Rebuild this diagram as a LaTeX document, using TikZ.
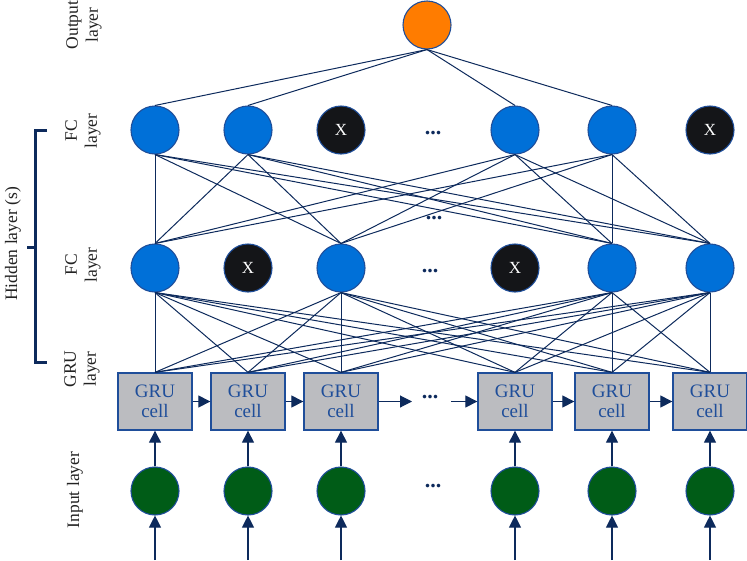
\documentclass[tikz,border=0pt]{standalone}
\usepackage{fontspec}
\setmainfont{Liberation Serif}
\usetikzlibrary{arrows.meta}
\definecolor{navy}{HTML}{0D2A5C}
\definecolor{nblue}{HTML}{0070D8}
\definecolor{nborder}{HTML}{1F4E9A}
\definecolor{nblack}{HTML}{141518}
\definecolor{ngreen}{HTML}{005C17}
\definecolor{norange}{HTML}{FF7C00}
\definecolor{ngray}{HTML}{BBBCC0}
\definecolor{labtext}{HTML}{222222}
\tikzset{
  neuron/.style={circle, minimum size=48pt, inner sep=0pt, draw=nborder, line width=1.1pt},
  bluen/.style={neuron, fill=nblue},
  dropn/.style={neuron, fill=nblack, text=white, font=\fontsize{17}{17}\selectfont},
  greenn/.style={neuron, fill=ngreen},
  outn/.style={neuron, fill=norange},
  grubox/.style={rectangle, draw=nborder, fill=ngray, line width=1.3pt, minimum width=74pt, minimum height=57pt, inner sep=0pt, align=center, text=nborder, font=\fontsize{19}{20}\selectfont},
  conn/.style={draw=navy, line width=1pt},
  arr/.style={draw=navy, line width=1.1pt, -{Triangle[width=12pt,length=12pt]}},
  dotsn/.style={text=navy, font=\fontsize{22}{22}\selectfont\bfseries},
  lab/.style={rotate=90, align=center, text=labtext, font=\fontsize{17.5}{20}\selectfont},
  brace/.style={draw=navy, line width=3pt}
}
\begin{document}
\begin{tikzpicture}[x=1pt,y=-1pt]
\useasboundingbox (0,0) rectangle (747,560);
% output
\node[outn] (out) at (427,25) {};
% top FC row
\node[bluen] (t1) at (155,130) {};
\node[bluen] (t2) at (248,130) {};
\node[dropn] (t3) at (341,130) {X};
\node[dotsn] (td) at (433,133) {...};
\node[bluen] (t5) at (515,130) {};
\node[bluen] (t6) at (612,130) {};
\node[dropn] (t7) at (710,130) {X};
% middle FC row
\node[bluen] (m1) at (155,268) {};
\node[dropn] (m2) at (248,268) {X};
\node[bluen] (m3) at (341,268) {};
\node[dotsn] (md) at (430,271) {...};
\node[dropn] (m5) at (515,268) {X};
\node[bluen] (m6) at (612,268) {};
\node[bluen] (m7) at (710,268) {};
\node[dotsn] (bd) at (434,218) {...};
% GRU row
\foreach \i/\x in {1/155,2/248,3/341,4/515,5/612,6/710}{
  \node[grubox] (g\i) at (\x,401.5) {GRU\\cell};
}
\node[dotsn] (gd) at (430,397) {...};
% inputs
\foreach \i/\x in {1/155,2/248,3/341,4/515,5/612,6/710}{
  \node[greenn] (in\i) at (\x,491) {};
  \coordinate (b\i) at (\x,560);
}
\node[dotsn] (id) at (433,486) {...};
% connections output - top FC
\foreach \n in {t1,t2,t5,t6}{
  \draw[conn] (out.south) -- (\n.north);
}
% top FC - middle FC
\foreach \a in {t1,t2,t5,t6}{
  \foreach \b in {m1,m3,m6,m7}{
    \draw[conn] (\a.south) -- (\b.north);
  }
}
% middle FC - GRU
\foreach \a in {m1,m3,m6,m7}{
  \foreach \b in {g1,g2,g3,g4,g5,g6}{
    \draw[conn] (\a.south) -- (\b.north);
  }
}
% GRU recurrent arrows
\draw[arr] (g1.east) -- (g2.west);
\draw[arr] (g2.east) -- (g3.west);
\coordinate (ga) at (412,401.5);
\coordinate (gb) at (451,401.5);
\draw[arr] (g3.east) -- (ga);
\draw[arr] (gb) -- (g4.west);
\draw[arr] (g4.east) -- (g5.west);
\draw[arr] (g5.east) -- (g6.west);
% input arrows
\foreach \i in {1,...,6}{
  \draw[arr] (in\i.north) -- (g\i.south);
  \draw[arr] (b\i) -- (in\i.south);
}
% labels
\node[lab] (lo) at (84,25) {Output\\layer};
\node[lab] (lf1) at (83,131) {FC\\layer};
\node[lab] (lf2) at (83,265) {FC\\layer};
\node[lab] (lg) at (82,369) {GRU\\layer};
\node[lab] (li) at (75,490) {Input layer};
\node[lab] (lh) at (13,244) {Hidden layer (s)};
% bracket
\draw[brace] (47,130) -- (35,130) -- (35,362) -- (47,362);
\draw[brace] (27,247) -- (35,247);
\end{tikzpicture}
\end{document}
